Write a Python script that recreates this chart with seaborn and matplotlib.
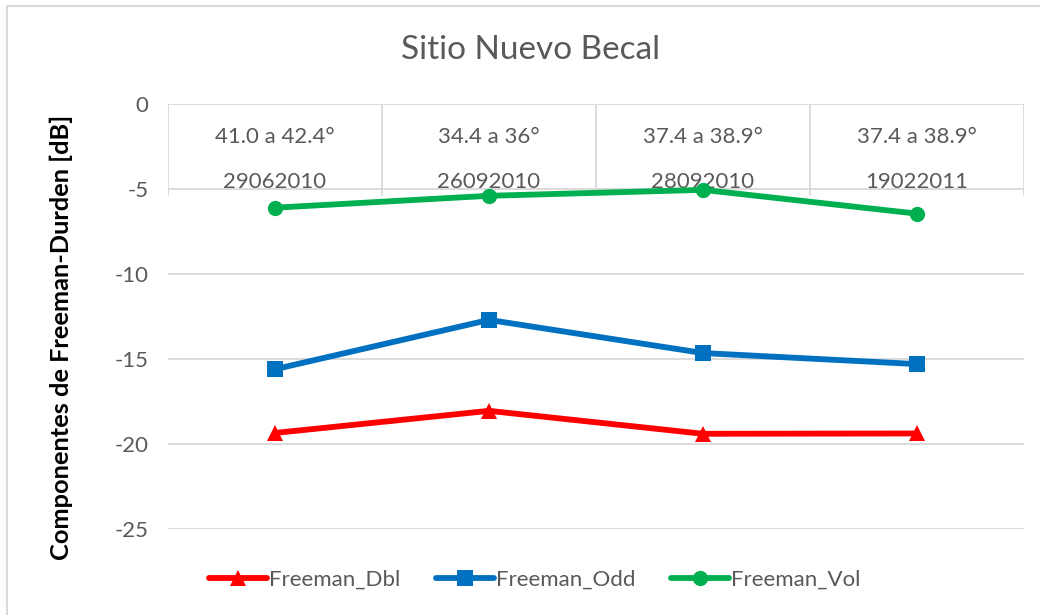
import matplotlib
matplotlib.use("Agg")
import matplotlib.pyplot as plt
import seaborn as sns
import pandas as pd
import numpy as np

# ---- data ----
angles = ["41.0 a 42.4°", "34.4 a 36°", "37.4 a 38.9°", "37.4 a 38.9°"]
dates = ["29062010", "26092010", "28092010", "19022011"]
series_names = ["Freeman_Dbl", "Freeman_Odd", "Freeman_Vol"]
freeman_dbl = [-19.35, -18.05, -19.4, -19.38]
freeman_odd = [-15.6, -12.7, -14.65, -15.3]
freeman_vol = [-6.1, -5.4, -5.05, -6.45]
y_ticks = [0, -5, -10, -15, -20, -25]

colors = {"Freeman_Dbl": "#FF0000", "Freeman_Odd": "#0070C0", "Freeman_Vol": "#00B050"}
markers = {"Freeman_Dbl": "^", "Freeman_Odd": "s", "Freeman_Vol": "o"}

rows = []
for name, vals in zip(series_names, [freeman_dbl, freeman_odd, freeman_vol]):
    for i, v in enumerate(vals):
        rows.append({"pos": i, "value": v, "serie": name})
df = pd.DataFrame(rows)

sns.set_theme(style="white")
plt.rcParams['font.family'] = ['Lato', 'DejaVu Sans']

fig = plt.figure(figsize=(10.4, 6.15), dpi=100)
ax = fig.add_axes([168/1040, 1-529/615, (1024-168)/1040, (529-104)/615])

gcol = "#D9D9D9"
for t in y_ticks:
    ax.axhline(t, color=gcol, lw=1.3, zorder=0)
n = len(angles)
ax.vlines(np.arange(-0.5, n, 1.0), -5.4, 0, color=gcol, lw=1.3, zorder=0)

for i, (a, d) in enumerate(zip(angles, dates)):
    ax.text(i, -1.95, a, ha="center", va="center", fontsize=16, color="#595959", zorder=1)
    ax.text(i, -4.6, d, ha="center", va="center", fontsize=16, color="#595959", zorder=1)

sns.lineplot(data=df, x="pos", y="value", hue="serie", style="serie",
             hue_order=series_names, style_order=series_names,
             palette=colors, markers=markers, dashes=False,
             lw=4.2, markersize=11, markeredgewidth=0, ax=ax, zorder=3)

ax.set_xlim(-0.5, n - 0.5)
ax.set_ylim(-25, 0)
ax.set_xticks([])
ax.set_yticks(y_ticks)
ax.set_yticklabels([str(t) for t in y_ticks], fontsize=16, color="#595959")
ax.tick_params(axis="y", length=0, pad=14)
for s in ax.spines.values():
    s.set_visible(False)
ax.set_xlabel("")
ax.set_ylabel("Componentes de Freeman-Durden [dB]", fontsize=18.3, fontweight="bold",
              color="black")
ax.yaxis.set_label_coords(-0.111, 0.452)

ax.text((531 - 168) / (1024 - 168), 1 + (104 - 50) / 425, "Sitio Nuevo Becal",
        transform=ax.transAxes, ha="center", va="center", fontsize=24, color="#595959")

handles, labels = ax.get_legend_handles_labels()
ax.legend(handles, labels, loc="center", bbox_to_anchor=((535 - 168) / 856, -(580 - 529) / 425),
          ncol=3, frameon=False, fontsize=16, handlelength=2.6, handletextpad=0.1,
          columnspacing=1.6, labelcolor="#595959")

# chart border
fig.patches.append(plt.Rectangle((7/1040, -0.1), 1.2, 1 - 6/615 + 0.1, transform=fig.transFigure,
                                 fill=False, edgecolor=gcol, lw=1.5))

fig.savefig("out.png", dpi=100)
